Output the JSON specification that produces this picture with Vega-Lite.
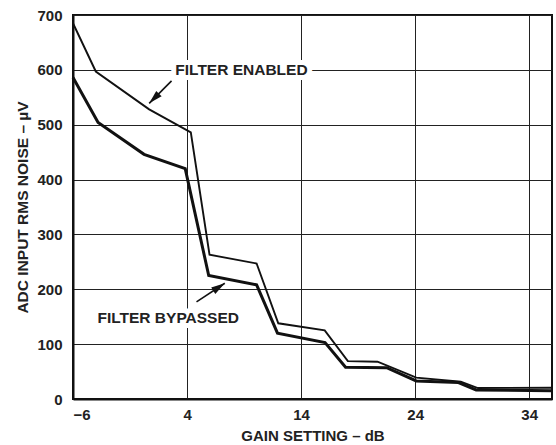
{
  "$schema": "https://vega.github.io/schema/vega-lite/v6.json",
  "width": 479,
  "height": 384,
  "autosize": "none",
  "padding": {"left": 73, "top": 15, "right": 4, "bottom": 46},
  "background": "white",
  "config": {
    "font": "Liberation Sans",
    "view": {"stroke": "#111", "strokeWidth": 2},
    "axis": {
      "labelFont": "Liberation Sans", "labelFontWeight": "bold", "labelFontSize": 15, "labelColor": "#222",
      "titleFont": "Liberation Sans", "titleFontWeight": "bold", "titleFontSize": 15, "titleColor": "#222",
      "domainColor": "#111", "domainWidth": 2,
      "gridColor": "#222", "gridWidth": 1, "gridOpacity": 1,
      "ticks": false, "tickSize": 0
    }
  },
  "datasets": {
    "noise": [
      {"series": "Filter enabled", "gain": -6, "noise": 685},
      {"series": "Filter enabled", "gain": -4, "noise": 597},
      {"series": "Filter enabled", "gain": 0.68, "noise": 528},
      {"series": "Filter enabled", "gain": 4.33, "noise": 486},
      {"series": "Filter enabled", "gain": 5.97, "noise": 263},
      {"series": "Filter enabled", "gain": 10.1, "noise": 247},
      {"series": "Filter enabled", "gain": 12.0, "noise": 138},
      {"series": "Filter enabled", "gain": 16.07, "noise": 125},
      {"series": "Filter enabled", "gain": 18.1, "noise": 69},
      {"series": "Filter enabled", "gain": 20.7, "noise": 68},
      {"series": "Filter enabled", "gain": 24.1, "noise": 39},
      {"series": "Filter enabled", "gain": 28.0, "noise": 31.5},
      {"series": "Filter enabled", "gain": 29.5, "noise": 20},
      {"series": "Filter enabled", "gain": 36, "noise": 20.5},
      {"series": "Filter bypassed", "gain": -6, "noise": 586},
      {"series": "Filter bypassed", "gain": -3.8, "noise": 504},
      {"series": "Filter bypassed", "gain": 0.23, "noise": 446},
      {"series": "Filter bypassed", "gain": 3.84, "noise": 420},
      {"series": "Filter bypassed", "gain": 5.9, "noise": 225},
      {"series": "Filter bypassed", "gain": 10.1, "noise": 208},
      {"series": "Filter bypassed", "gain": 11.93, "noise": 120},
      {"series": "Filter bypassed", "gain": 16.1, "noise": 103},
      {"series": "Filter bypassed", "gain": 17.9, "noise": 58},
      {"series": "Filter bypassed", "gain": 21.5, "noise": 57},
      {"series": "Filter bypassed", "gain": 24.1, "noise": 33},
      {"series": "Filter bypassed", "gain": 27.8, "noise": 30},
      {"series": "Filter bypassed", "gain": 29.35, "noise": 16.5},
      {"series": "Filter bypassed", "gain": 36, "noise": 15}
    ],
    "arrows": [
      {"name": "enabled", "x1": 2.64, "y1": 580, "x2": 0.68, "y2": 539, "angle": 225},
      {"name": "bypassed", "x1": 4.83, "y1": 177, "x2": 7.31, "y2": 211, "angle": 57}
    ],
    "labels": [
      {"text": "FILTER ENABLED", "gain": 8.77, "noise": 600},
      {"text": "FILTER BYPASSED", "gain": 2.35, "noise": 148}
    ]
  },
  "layer": [
    {
      "data": {"name": "noise"},
      "mark": {"type": "line", "color": "#111", "strokeJoin": "miter"},
      "encoding": {
        "x": {
          "field": "gain", "type": "quantitative",
          "scale": {"domain": [-6, 36], "nice": false, "zero": false},
          "axis": {"values": [-6, 4, 14, 24, 34], "title": "GAIN SETTING – dB", "labelPadding": 8, "titlePadding": 6, "grid": true}
        },
        "y": {
          "field": "noise", "type": "quantitative",
          "scale": {"domain": [0, 700], "nice": false},
          "axis": {"values": [0, 100, 200, 300, 400, 500, 600, 700], "title": "ADC INPUT RMS NOISE – µV", "labelPadding": 11, "titlePadding": 6, "titleFontSize": 15.5, "grid": true}
        },
        "detail": {"field": "series"},
        "strokeWidth": {
          "field": "series", "type": "nominal",
          "scale": {"domain": ["Filter enabled", "Filter bypassed"], "range": [1.9, 3]},
          "legend": null
        }
      }
    },
    {
      "data": {"name": "arrows"},
      "mark": {"type": "rule", "color": "#111", "strokeWidth": 1.6},
      "encoding": {
        "x": {"field": "x1", "type": "quantitative"},
        "y": {"field": "y1", "type": "quantitative"},
        "x2": {"field": "x2"},
        "y2": {"field": "y2"}
      }
    },
    {
      "data": {"name": "arrows"},
      "mark": {"type": "point", "shape": "M0,0 L-0.55,2 L0.55,2 Z", "filled": true, "color": "#111", "opacity": 1, "size": 190},
      "encoding": {
        "x": {"field": "x2", "type": "quantitative"},
        "y": {"field": "y2", "type": "quantitative"},
        "angle": {"field": "angle", "type": "quantitative", "scale": null}
      }
    },
    {
      "data": {"name": "labels"},
      "mark": {"type": "text", "font": "Liberation Sans", "fontWeight": "bold", "fontSize": 15.5, "fill": "white", "stroke": "white", "strokeWidth": 10, "strokeJoin": "round", "align": "center", "baseline": "middle"},
      "encoding": {
        "x": {"field": "gain", "type": "quantitative"},
        "y": {"field": "noise", "type": "quantitative"},
        "text": {"field": "text"}
      }
    },
    {
      "data": {"name": "labels"},
      "mark": {"type": "text", "font": "Liberation Sans", "fontWeight": "bold", "fontSize": 15.5, "color": "#222", "align": "center", "baseline": "middle"},
      "encoding": {
        "x": {"field": "gain", "type": "quantitative"},
        "y": {"field": "noise", "type": "quantitative"},
        "text": {"field": "text"}
      }
    }
  ]
}
